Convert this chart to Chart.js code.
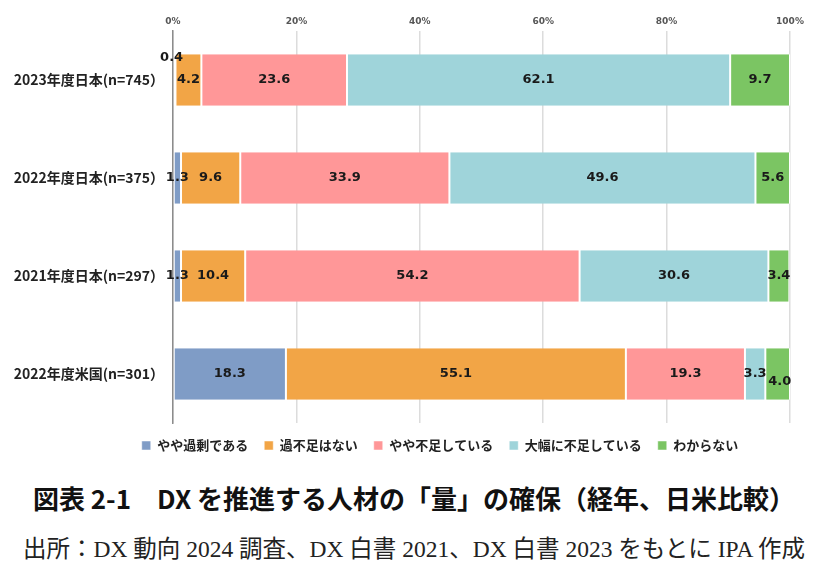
<!DOCTYPE html>
<html>
<head>
<meta charset="utf-8">
<script src="https://cdn.jsdelivr.net/npm/chart.js@4/dist/chart.umd.min.js"></script>
<style>
  body { margin: 0; background: #fff; width: 828px; height: 578px; overflow: hidden; }
  #wrap { position: relative; width: 828px; height: 462px; }
  .title { position: absolute; top: 479px; left: 0; width: 828px; text-align: center;
    font-family: "Noto Sans CJK JP", sans-serif; font-weight: bold; font-size: 26px; color: #111; }
  .source { position: absolute; top: 530px; left: 0; width: 828px; text-align: center;
    font-family: "Liberation Serif", "Noto Sans CJK JP", serif; font-size: 23.5px; color: #222; }
</style>
</head>
<body>
<div id="wrap"><canvas id="chart"></canvas></div>
<div class="title">図表 2-1　DX を推進する人材の「量」の確保（経年、日米比較）</div>
<div class="source">出所：DX 動向 2024 調査、DX 白書 2021、DX 白書 2023 をもとに IPA 作成</div>
<script>
const categories = ['2023年度日本(n=745）', '2022年度日本(n=375）', '2021年度日本(n=297）', '2022年度米国(n=301）'];
const seriesNames = ['やや過剰である', '過不足はない', 'やや不足している', '大幅に不足している', 'わからない'];
const excess = [0.4, 1.3, 1.3, 18.3];
const balanced = [4.2, 9.6, 10.4, 55.1];
const slightShort = [23.6, 33.9, 54.2, 19.3];
const severeShort = [62.1, 49.6, 30.6, 3.3];
const unknown = [9.7, 5.6, 3.4, 4.0];
const tickValues = [0, 20, 40, 60, 80, 100];

const colors = ['#7f9cc6', '#f2a546', '#ff9798', '#9fd4da', '#7bc563'];
// small nudges for labels that sit outside tiny segments: [dataset, row] -> [dx, dy]
const labelNudge = { '0,0': [-3, -22], '4,3': [2, 8] };

const allSeries = [excess, balanced, slightShort, severeShort, unknown];

const valueLabels = {
  id: 'valueLabels',
  afterDatasetsDraw(chart) {
    const ctx = chart.ctx;
    ctx.save();
    ctx.font = 'bold 13px "DejaVu Sans", sans-serif';
    ctx.fillStyle = '#1a1a1a';
    ctx.textAlign = 'center';
    ctx.textBaseline = 'middle';
    chart.data.datasets.forEach((ds, di) => {
      chart.getDatasetMeta(di).data.forEach((bar, i) => {
        const v = ds.data[i];
        const n = labelNudge[di + ',' + i] || [0, 0];
        const x = (bar.x + bar.base) / 2 + n[0];
        ctx.fillText(v.toFixed(1), x, bar.y + n[1]);
      });
    });
    ctx.restore();
  }
};

// the left padding is only there to centre the legend like the original;
// let the category labels use that space too
const widenYLabels = {
  id: 'widenYLabels',
  afterLayout(chart) { chart.scales.y.left = 0; }
};

new Chart(document.getElementById('chart'), {
  type: 'bar',
  data: {
    labels: categories,
    datasets: allSeries.map((d, i) => ({
      label: seriesNames[i],
      data: d,
      backgroundColor: colors[i],
      borderColor: '#ffffff',
      borderWidth: { left: 1, right: 1, top: 0, bottom: 0 },
      borderSkipped: false,
      barPercentage: 0.66,
      categoryPercentage: 0.8
    }))
  },
  options: {
    indexAxis: 'y',
    responsive: true,
    maintainAspectRatio: false,
    animation: false,
    layout: { padding: { left: 90, right: 38, top: 4, bottom: 0 } },
    scales: {
      x: {
        position: 'top',
        stacked: true,
        min: 0,
        max: 100,
        afterBuildTicks: s => { s.ticks = tickValues.map(v => ({ value: v })); },
        afterFit: s => { s.height = 27; },
        ticks: {
          callback: v => v + '%',
          font: { size: 9, weight: 'bold', family: '"DejaVu Sans", sans-serif' },
          color: '#555',
          padding: 4,
          maxRotation: 0
        },
        grid: { color: '#dcdcdc', lineWidth: 1.5, drawTicks: false },
        border: { display: false }
      },
      y: {
        stacked: true,
        afterFit: s => { s.width = 83; },
        ticks: {
          font: { size: 14, weight: 'bold', family: '"Noto Sans CJK JP", sans-serif' },
          color: '#222',
          padding: 9
        },
        grid: { display: false, drawTicks: false },
        border: { display: true, color: '#8c8c8c', width: 1.5 }
      }
    },
    plugins: {
      legend: {
        position: 'bottom',
        labels: {
          boxWidth: 9,
          boxHeight: 9,
          padding: 16,
          color: '#222',
          font: { size: 13, weight: 'bold', family: '"Noto Sans CJK JP", sans-serif' }
        }
      },
      tooltip: { enabled: false }
    }
  },
  plugins: [valueLabels, widenYLabels]
});
</script>
</body>
</html>
